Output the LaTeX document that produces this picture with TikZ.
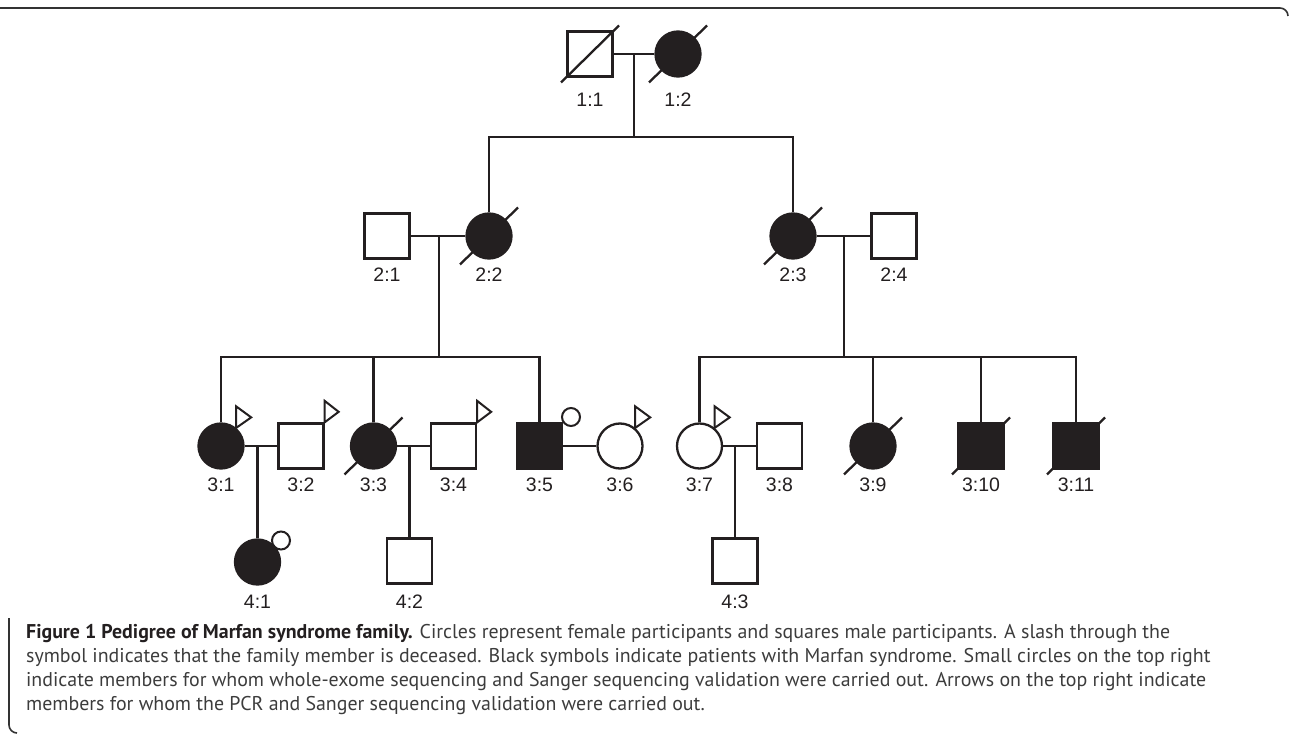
\documentclass[tikz,border=0pt]{standalone}
\usepackage{fontspec}
\setmainfont{Liberation Sans}
\newfontfamily\capfont{PT Sans}
\definecolor{ink}{HTML}{231F20}
\definecolor{captxt}{HTML}{3C3C3C}
\begin{document}
\begin{tikzpicture}[x=1pt,y=-1pt,
  line width=2.3pt, draw=ink,
  male/.style={rectangle,draw=ink,line width=2.3pt,minimum size=45pt,inner sep=0pt,fill=white},
  female/.style={circle,draw=ink,line width=2.3pt,minimum size=45pt,inner sep=0pt,fill=white},
  aff/.style={fill=ink},
  idlab/.style={font=\fontsize{19.5}{20}\selectfont,text=ink,inner sep=0pt},
  conn/.style={draw=ink,line width=2.3pt},
  slashline/.style={draw=ink,line width=2.3pt},
  flag/.style={draw=ink,line width=2pt,fill=white,line join=miter},
  smallc/.style={circle,draw=ink,line width=2pt,minimum size=18pt,inner sep=0pt,fill=white},
  captxt/.style={font=\capfont\fontsize{19.9}{23}\selectfont,text=captxt,inner sep=0pt,anchor=base west}
]
\useasboundingbox (0,0) rectangle (1290,735);
% frame
\draw[line width=1.6pt,draw=black!80] (0,8) -- (1280,8) arc[start angle=-90,end angle=0,radius=8];
\draw[line width=1.6pt,draw=black!80] (9,618) -- (9,725) arc[start angle=180,end angle=90,radius=8];

% ---------- generation 1
\node[male] (p11) at (590,54) {};
\node[female,aff] (p12) at (678,54) {};
% ---------- generation 2
\node[male] (p21) at (387,236) {};
\node[female,aff] (p22) at (489,236) {};
\node[female,aff] (p23) at (793,236) {};
\node[male] (p24) at (894,236) {};
% ---------- generation 3
\node[female,aff] (p31) at (221,446) {};
\node[male] (p32) at (301,446) {};
\node[female,aff] (p33) at (373.5,446) {};
\node[male] (p34) at (453.5,446) {};
\node[male,aff] (p35) at (539.5,446) {};
\node[female] (p36) at (620,446) {};
\node[female] (p37) at (699.5,446) {};
\node[male] (p38) at (779.5,446) {};
\node[female,aff] (p39) at (873,446) {};
\node[male,aff] (p310) at (981,446) {};
\node[male,aff] (p311) at (1076,446) {};
% ---------- generation 4
\node[female,aff] (p41) at (257.5,562) {};
\node[male] (p42) at (409.5,561) {};
\node[male] (p43) at (735,561) {};

% ---------- labels
\foreach \n/\t/\y in {p11/1:1/100,p12/1:2/100,p21/2:1/275,p22/2:2/275,p23/2:3/275,p24/2:4/275,
  p31/3:1/485,p32/3:2/485,p33/3:3/485,p34/3:4/485,p35/3:5/485,p36/3:6/485,p37/3:7/485,p38/3:8/485,
  p39/3:9/485,p310/3:10/485,p311/3:11/485,p41/4:1/602,p42/4:2/602,p43/4:3/602}
  \node[idlab] (l\n) at (\n.center |- 0,\y) {\t};

% ---------- connection coordinates
\coordinate (d1) at (634,54);
\coordinate (s1) at (634,137);
\coordinate (d2) at (439,236);
\coordinate (s2) at (439,357);
\coordinate (d3) at (844,236);
\coordinate (s3) at (844,357);
\coordinate (d4) at (257.5,446);
\coordinate (d5) at (409.5,446);
\coordinate (d6) at (735,446);

% marriage lines
\draw[conn] (p11.east) -- (p12.west);
\draw[conn] (p21.east) -- (p22.west);
\draw[conn] (p23.east) -- (p24.west);
\draw[conn] (p31.east) -- (p32.west);
\draw[conn] (p33.east) -- (p34.west);
\draw[conn] (p35.east) -- (p36.west);
\draw[conn] (p37.east) -- (p38.west);
% descent lines
\draw[conn] (d1) -- (s1);
\draw[conn] (p22.north) -- (p22.north |- s1) -- (p23.north |- s1) -- (p23.north);
\draw[conn] (d2) -- (s2);
\draw[conn] (p31.north) -- (p31.north |- s2) -- (p35.north |- s2) -- (p35.north);
\draw[conn] (p33.north) -- (p33.north |- s2);
\draw[conn] (d3) -- (s3);
\draw[conn] (p37.north) -- (p37.north |- s3) -- (p311.north |- s3) -- (p311.north);
\draw[conn] (p39.north) -- (p39.north |- s3);
\draw[conn] (p310.north) -- (p310.north |- s3);
\draw[conn] (d4) -- (p41.north);
\draw[conn] (d5) -- (p42.north);
\draw[conn] (d6) -- (p43.north);

% deceased slashes
\foreach \n in {p11,p12,p22,p23,p33,p39,p310,p311}
  \draw[slashline] ([shift={(-29,28.5)}]\n.center) -- ([shift={(29,-28.5)}]\n.center);

% flags (arrows) on top right
\foreach \n in {p32,p34}
  \draw[flag] (\n.north east) -- ++(0,-21.5) -- ++(14,11) -- cycle;
\foreach \n in {p31,p36,p37}
  \draw[flag] (\n.50) -- ++(0,-21.5) -- ++(15,11) -- cycle;

% small circles
\node[smallc] (c35) at ([shift={(31.5,-29)}]p35.center) {};
\node[smallc] (c41) at ([shift={(23.5,-21.5)}]p41.center) {};

% ---------- caption
\node[captxt] (cap1) at (25,638) {\textbf{\color{ink}Figure 1 Pedigree of Marfan syndrome family.} Circles represent female participants and squares male participants. A slash through the};
\node[captxt] (cap2) at (25,662) {symbol indicates that the family member is deceased. Black symbols indicate patients with Marfan syndrome. Small circles on the top right};
\node[captxt] (cap3) at (25,686) {indicate members for whom whole-exome sequencing and Sanger sequencing validation were carried out. Arrows on the top right indicate};
\node[captxt] (cap4) at (25,710) {members for whom the PCR and Sanger sequencing validation were carried out.};
\end{tikzpicture}
\end{document}
